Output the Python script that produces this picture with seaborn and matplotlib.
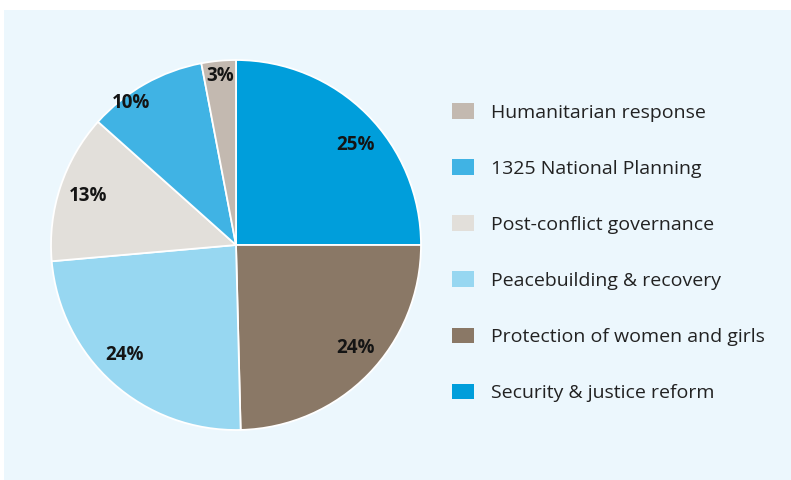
import matplotlib
matplotlib.use("Agg")
import matplotlib.pyplot as plt
import seaborn as sns
import numpy as np
from matplotlib.patches import Rectangle

# Data (clockwise from 12 o'clock)
categories = ["Security & justice reform", "Protection of women and girls",
              "Peacebuilding & recovery", "Post-conflict governance",
              "1325 National Planning", "Humanitarian response"]
shares = [25.0, 24.6, 24.0, 13.0, 10.4, 3.0]
share_labels = ["25%", "24%", "24%", "13%", "10%", "3%"]
colors = ["#009EDB", "#8A7866", "#97D7F1", "#E2DFDA", "#40B3E4", "#C3B9B0"]
# label placement style: radial distance and angular nudge (degrees)
label_dist = [0.84, 0.85, 0.845, 0.84, 0.955, 0.92]
label_nudge = [-5, 3.5, -3.5, 0, 7, 0]

sns.set_theme(style="white")
plt.rcParams["font.family"] = ["Open Sans", "DejaVu Sans"]

W, H = 791, 480
fig = plt.figure(figsize=(W / 100, H / 100), dpi=100)
fig.patch.set_facecolor("white")
fig.patches.append(Rectangle((4 / W, 0), 1 - 4 / W, 1 - 10 / H,
                             transform=fig.transFigure, facecolor="#ECF7FD",
                             edgecolor="none", zorder=-10))

cx, cy, r = 236, 245, 185
ax = fig.add_axes([(cx - r) / W, (H - cy - r) / H, 2 * r / W, 2 * r / H])
ax.set_zorder(2)
ax.set_facecolor("none")
wedges, _ = ax.pie(shares, colors=colors, startangle=90, counterclock=False,
                   radius=1, wedgeprops=dict(edgecolor="white", linewidth=1.3))
ax.set_xlim(-1, 1)
ax.set_ylim(-1, 1)
ax.set_aspect("equal")
ax.axis("off")

for w, lab, d, n in zip(wedges, share_labels, label_dist, label_nudge):
    ang = np.deg2rad((w.theta1 + w.theta2) / 2 + n)
    ax.text(d * np.cos(ang), d * np.sin(ang), lab, ha="center", va="center",
            fontsize=13.5, fontweight="bold", color="#141414")

handles = wedges[::-1]
names = categories[::-1]
leg = fig.legend(handles, names, loc="upper left",
                 bbox_to_anchor=(452 / W, 1 - 103 / H),
                 frameon=False, fontsize=14, handlelength=1.13, handleheight=0.87,
                 handletextpad=0.87, labelspacing=1.93, borderpad=0, borderaxespad=0)
leg.set_zorder(3)
for t in leg.get_texts():
    t.set_color("#222222")
for h in leg.legend_handles:
    h.set_edgecolor("none")

fig.savefig("out.png", dpi=100)
